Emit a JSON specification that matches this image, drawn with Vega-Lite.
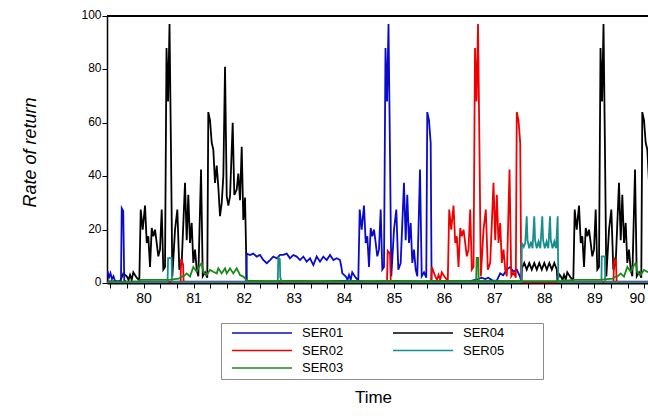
{
"$schema": "https://vega.github.io/schema/vega-lite/v6.json",
"width": 541, "height": 267,
"autosize": {"type": "none"},
"padding": {"left": 107, "top": 16, "right": 0, "bottom": 133},
"config": {"view": {"stroke": null}, "font": "Liberation Sans",
  "axis": {"grid": false, "domainColor": "black", "tickColor": "black", "labelColor": "black", "titleColor": "black", "labelFont": "Liberation Sans", "titleFont": "Liberation Sans"},
  "legend": {"labelFont": "Liberation Sans", "labelColor": "black"}},
"layer": [
{"data": {"values": [
{"s":"SER04","t":79.281,"v":0.6},{"s":"SER04","t":79.531,"v":0.6},{"s":"SER04","t":79.597,"v":3.6},{"s":"SER04","t":79.665,"v":2.5},{"s":"SER04","t":79.701,"v":1.2},{"s":"SER04","t":79.731,"v":3},{"s":"SER04","t":79.764,"v":1.2},{"s":"SER04","t":79.796,"v":4},{"s":"SER04","t":79.864,"v":2},
{"s":"SER04","t":79.916,"v":1},{"s":"SER04","t":79.944,"v":27.5},{"s":"SER04","t":79.984,"v":20},{"s":"SER04","t":80.030,"v":29},{"s":"SER04","t":80.064,"v":15},{"s":"SER04","t":80.096,"v":17.5},{"s":"SER04","t":80.130,"v":6},{"s":"SER04","t":80.164,"v":20.6},{"s":"SER04","t":80.196,"v":17.5},{"s":"SER04","t":80.230,"v":20},{"s":"SER04","t":80.263,"v":15},{"s":"SER04","t":80.295,"v":10},{"s":"SER04","t":80.329,"v":12.5},{"s":"SER04","t":80.363,"v":27.5},{"s":"SER04","t":80.395,"v":5},{"s":"SER04","t":80.429,"v":6},{"s":"SER04","t":80.459,"v":88},{"s":"SER04","t":80.490,"v":68},{"s":"SER04","t":80.519,"v":97},{"s":"SER04","t":80.545,"v":55},{"s":"SER04","t":80.575,"v":2.5},{"s":"SER04","t":80.629,"v":20},{"s":"SER04","t":80.675,"v":27.5},{"s":"SER04","t":80.715,"v":5},{"s":"SER04","t":80.762,"v":7.5},{"s":"SER04","t":80.828,"v":37.5},{"s":"SER04","t":80.862,"v":16},{"s":"SER04","t":80.894,"v":33},{"s":"SER04","t":80.928,"v":15},{"s":"SER04","t":80.962,"v":22.5},{"s":"SER04","t":80.994,"v":7.5},{"s":"SER04","t":81.028,"v":12.5},{"s":"SER04","t":81.062,"v":5},{"s":"SER04","t":81.094,"v":2.5},{"s":"SER04","t":81.148,"v":42.5},{"s":"SER04","t":81.182,"v":2.5},{"s":"SER04","t":81.228,"v":4},{"s":"SER04","t":81.273,"v":2},{"s":"SER04","t":81.293,"v":64},{"s":"SER04","t":81.327,"v":61},{"s":"SER04","t":81.361,"v":52.5},{"s":"SER04","t":81.393,"v":50},{"s":"SER04","t":81.427,"v":37.5},{"s":"SER04","t":81.461,"v":44},{"s":"SER04","t":81.493,"v":36},{"s":"SER04","t":81.527,"v":25},{"s":"SER04","t":81.561,"v":30},{"s":"SER04","t":81.593,"v":40},{"s":"SER04","t":81.627,"v":81},{"s":"SER04","t":81.661,"v":32.5},{"s":"SER04","t":81.693,"v":29},{"s":"SER04","t":81.727,"v":32.5},{"s":"SER04","t":81.780,"v":60},{"s":"SER04","t":81.812,"v":33},{"s":"SER04","t":81.860,"v":35},{"s":"SER04","t":81.892,"v":41},{"s":"SER04","t":81.926,"v":31},{"s":"SER04","t":81.960,"v":51},{"s":"SER04","t":81.992,"v":23.6},{"s":"SER04","t":82.026,"v":32},{"s":"SER04","t":82.060,"v":0.8},
{"s":"SER04","t":82.5,"v":0.6},{"s":"SER04","t":83.0,"v":0.7},{"s":"SER04","t":83.5,"v":0.6},{"s":"SER04","t":84.0,"v":0.8},{"s":"SER04","t":84.5,"v":0.6},{"s":"SER04","t":85.0,"v":0.7},{"s":"SER04","t":85.5,"v":0.6},{"s":"SER04","t":86.0,"v":0.7},{"s":"SER04","t":86.5,"v":0.6},{"s":"SER04","t":87.0,"v":0.7},{"s":"SER04","t":87.545,"v":0.6},
{"s":"SER04","t":87.552,"v":5.5},{"s":"SER04","t":87.60,"v":7.5},{"s":"SER04","t":87.65,"v":5},{"s":"SER04","t":87.70,"v":7.5},{"s":"SER04","t":87.75,"v":5},{"s":"SER04","t":87.80,"v":7.5},{"s":"SER04","t":87.85,"v":5},{"s":"SER04","t":87.90,"v":7.5},{"s":"SER04","t":87.95,"v":5},{"s":"SER04","t":88.00,"v":7.5},{"s":"SER04","t":88.05,"v":5},{"s":"SER04","t":88.10,"v":7.5},{"s":"SER04","t":88.15,"v":5},{"s":"SER04","t":88.20,"v":7.5},{"s":"SER04","t":88.25,"v":5},{"s":"SER04","t":88.262,"v":0.8},
{"s":"SER04","t":88.30,"v":3.2},{"s":"SER04","t":88.328,"v":2.5},{"s":"SER04","t":88.364,"v":1.2},{"s":"SER04","t":88.394,"v":3},{"s":"SER04","t":88.427,"v":1.2},{"s":"SER04","t":88.459,"v":4},{"s":"SER04","t":88.527,"v":2},
{"s":"SER04","t":88.579,"v":1},{"s":"SER04","t":88.607,"v":27.5},{"s":"SER04","t":88.647,"v":20},{"s":"SER04","t":88.693,"v":29},{"s":"SER04","t":88.727,"v":15},{"s":"SER04","t":88.759,"v":17.5},{"s":"SER04","t":88.793,"v":6},{"s":"SER04","t":88.827,"v":20.6},{"s":"SER04","t":88.859,"v":17.5},{"s":"SER04","t":88.893,"v":20},{"s":"SER04","t":88.926,"v":15},{"s":"SER04","t":88.958,"v":10},{"s":"SER04","t":88.992,"v":12.5},{"s":"SER04","t":89.026,"v":27.5},{"s":"SER04","t":89.058,"v":5},{"s":"SER04","t":89.092,"v":6},{"s":"SER04","t":89.122,"v":88},{"s":"SER04","t":89.153,"v":68},{"s":"SER04","t":89.182,"v":97},{"s":"SER04","t":89.208,"v":55},{"s":"SER04","t":89.238,"v":2.5},{"s":"SER04","t":89.292,"v":20},{"s":"SER04","t":89.338,"v":27.5},{"s":"SER04","t":89.378,"v":5},{"s":"SER04","t":89.425,"v":7.5},{"s":"SER04","t":89.491,"v":37.5},{"s":"SER04","t":89.525,"v":16},{"s":"SER04","t":89.557,"v":33},{"s":"SER04","t":89.591,"v":15},{"s":"SER04","t":89.625,"v":22.5},{"s":"SER04","t":89.657,"v":7.5},{"s":"SER04","t":89.691,"v":12.5},{"s":"SER04","t":89.725,"v":5},{"s":"SER04","t":89.757,"v":2.5},{"s":"SER04","t":89.811,"v":42.5},{"s":"SER04","t":89.845,"v":2.5},{"s":"SER04","t":89.891,"v":4},{"s":"SER04","t":89.936,"v":2},{"s":"SER04","t":89.956,"v":64},{"s":"SER04","t":89.990,"v":61},{"s":"SER04","t":90.024,"v":52.5},{"s":"SER04","t":90.056,"v":50},{"s":"SER04","t":90.090,"v":37.5},{"s":"SER04","t":90.124,"v":44},

{"s":"SER01","t":79.281,"v":4.5},{"s":"SER01","t":79.31,"v":2},{"s":"SER01","t":79.34,"v":3.7},{"s":"SER01","t":79.37,"v":1.5},{"s":"SER01","t":79.40,"v":2.5},{"s":"SER01","t":79.43,"v":0.8},{"s":"SER01","t":79.49,"v":0.5},{"s":"SER01","t":79.55,"v":0.8},{"s":"SER01","t":79.565,"v":28},{"s":"SER01","t":79.595,"v":27},{"s":"SER01","t":79.615,"v":1},{"s":"SER01","t":79.65,"v":0.5},{"s":"SER01","t":80.5,"v":0.5},{"s":"SER01","t":81.5,"v":0.5},{"s":"SER01","t":82.05,"v":0.5},
{"s":"SER01","t":82.06,"v":11},{"s":"SER01","t":82.126,"v":10.5},{"s":"SER01","t":82.19,"v":11},{"s":"SER01","t":82.26,"v":9.9},{"s":"SER01","t":82.325,"v":10.5},{"s":"SER01","t":82.39,"v":8.6},{"s":"SER01","t":82.46,"v":7.4},{"s":"SER01","t":82.525,"v":8.6},{"s":"SER01","t":82.59,"v":9.9},{"s":"SER01","t":82.66,"v":9.25},{"s":"SER01","t":82.725,"v":10.5},{"s":"SER01","t":82.79,"v":10.5},{"s":"SER01","t":82.86,"v":11},{"s":"SER01","t":82.924,"v":9.25},{"s":"SER01","t":82.99,"v":10.5},{"s":"SER01","t":83.058,"v":9.9},{"s":"SER01","t":83.124,"v":8.6},{"s":"SER01","t":83.19,"v":9.9},{"s":"SER01","t":83.257,"v":8},{"s":"SER01","t":83.323,"v":9.25},{"s":"SER01","t":83.39,"v":6.7},{"s":"SER01","t":83.457,"v":9.9},{"s":"SER01","t":83.523,"v":8},{"s":"SER01","t":83.589,"v":9.9},{"s":"SER01","t":83.657,"v":8.6},{"s":"SER01","t":83.723,"v":10.5},{"s":"SER01","t":83.79,"v":8.6},{"s":"SER01","t":83.856,"v":9.25},{"s":"SER01","t":83.922,"v":8.6},{"s":"SER01","t":83.95,"v":6},
{"s":"SER01","t":83.968,"v":3.6},{"s":"SER01","t":84.036,"v":2.5},{"s":"SER01","t":84.072,"v":1.2},{"s":"SER01","t":84.102,"v":3},{"s":"SER01","t":84.135,"v":1.2},{"s":"SER01","t":84.167,"v":4},{"s":"SER01","t":84.235,"v":2},
{"s":"SER01","t":84.287,"v":1},{"s":"SER01","t":84.315,"v":27.5},{"s":"SER01","t":84.355,"v":20},{"s":"SER01","t":84.401,"v":29},{"s":"SER01","t":84.435,"v":15},{"s":"SER01","t":84.467,"v":17.5},{"s":"SER01","t":84.501,"v":6},{"s":"SER01","t":84.535,"v":20.6},{"s":"SER01","t":84.567,"v":17.5},{"s":"SER01","t":84.601,"v":20},{"s":"SER01","t":84.634,"v":15},{"s":"SER01","t":84.666,"v":10},{"s":"SER01","t":84.700,"v":12.5},{"s":"SER01","t":84.734,"v":27.5},{"s":"SER01","t":84.766,"v":5},{"s":"SER01","t":84.800,"v":6},{"s":"SER01","t":84.830,"v":88},{"s":"SER01","t":84.861,"v":68},{"s":"SER01","t":84.890,"v":97},{"s":"SER01","t":84.916,"v":55},{"s":"SER01","t":84.946,"v":2.5},{"s":"SER01","t":85.000,"v":20},{"s":"SER01","t":85.046,"v":27.5},{"s":"SER01","t":85.086,"v":5},{"s":"SER01","t":85.133,"v":7.5},{"s":"SER01","t":85.199,"v":37.5},{"s":"SER01","t":85.233,"v":16},{"s":"SER01","t":85.265,"v":33},{"s":"SER01","t":85.299,"v":15},{"s":"SER01","t":85.333,"v":22.5},{"s":"SER01","t":85.365,"v":7.5},{"s":"SER01","t":85.399,"v":12.5},{"s":"SER01","t":85.433,"v":5},{"s":"SER01","t":85.465,"v":2.5},{"s":"SER01","t":85.519,"v":42.5},{"s":"SER01","t":85.553,"v":2.5},{"s":"SER01","t":85.599,"v":4},{"s":"SER01","t":85.644,"v":2},{"s":"SER01","t":85.664,"v":64},{"s":"SER01","t":85.698,"v":61},{"s":"SER01","t":85.732,"v":52.5},{"s":"SER01","t":85.75,"v":0.6},
{"s":"SER01","t":86.5,"v":0.6},{"s":"SER01","t":86.68,"v":1.5},{"s":"SER01","t":86.75,"v":2},{"s":"SER01","t":86.82,"v":1.5},{"s":"SER01","t":86.88,"v":2},{"s":"SER01","t":86.96,"v":1},{"s":"SER01","t":87.05,"v":0.8},{"s":"SER01","t":87.12,"v":3.6},{"s":"SER01","t":87.18,"v":2.9},{"s":"SER01","t":87.25,"v":5},{"s":"SER01","t":87.32,"v":6},{"s":"SER01","t":87.38,"v":4.2},{"s":"SER01","t":87.45,"v":5},{"s":"SER01","t":87.515,"v":2.4},{"s":"SER01","t":87.54,"v":0.5},{"s":"SER01","t":88.5,"v":0.5},{"s":"SER01","t":89.5,"v":0.5},{"s":"SER01","t":90.1,"v":0.5},

{"s":"SER02","t":79.281,"v":0.3},{"s":"SER02","t":80.74,"v":0.3},{"s":"SER02","t":80.75,"v":9},{"s":"SER02","t":80.79,"v":7},{"s":"SER02","t":80.80,"v":0.4},{"s":"SER02","t":84.86,"v":0.4},{"s":"SER02","t":84.875,"v":12},{"s":"SER02","t":84.92,"v":11},{"s":"SER02","t":84.935,"v":0.4},{"s":"SER02","t":85.74,"v":0.4},
{"s":"SER02","t":85.755,"v":6},{"s":"SER02","t":85.823,"v":2.5},{"s":"SER02","t":85.859,"v":1.2},{"s":"SER02","t":85.889,"v":3},{"s":"SER02","t":85.922,"v":1.2},{"s":"SER02","t":85.954,"v":4},{"s":"SER02","t":86.022,"v":2},
{"s":"SER02","t":86.074,"v":1},{"s":"SER02","t":86.102,"v":27.5},{"s":"SER02","t":86.142,"v":20},{"s":"SER02","t":86.188,"v":29},{"s":"SER02","t":86.222,"v":15},{"s":"SER02","t":86.254,"v":17.5},{"s":"SER02","t":86.288,"v":6},{"s":"SER02","t":86.322,"v":20.6},{"s":"SER02","t":86.354,"v":17.5},{"s":"SER02","t":86.388,"v":20},{"s":"SER02","t":86.421,"v":15},{"s":"SER02","t":86.453,"v":10},{"s":"SER02","t":86.487,"v":12.5},{"s":"SER02","t":86.521,"v":27.5},{"s":"SER02","t":86.553,"v":5},{"s":"SER02","t":86.587,"v":6},{"s":"SER02","t":86.617,"v":88},{"s":"SER02","t":86.648,"v":68},{"s":"SER02","t":86.677,"v":97},{"s":"SER02","t":86.703,"v":55},{"s":"SER02","t":86.733,"v":2.5},{"s":"SER02","t":86.787,"v":20},{"s":"SER02","t":86.833,"v":27.5},{"s":"SER02","t":86.873,"v":5},{"s":"SER02","t":86.920,"v":7.5},{"s":"SER02","t":86.986,"v":37.5},{"s":"SER02","t":87.020,"v":16},{"s":"SER02","t":87.052,"v":33},{"s":"SER02","t":87.086,"v":15},{"s":"SER02","t":87.120,"v":22.5},{"s":"SER02","t":87.152,"v":7.5},{"s":"SER02","t":87.186,"v":12.5},{"s":"SER02","t":87.220,"v":5},{"s":"SER02","t":87.252,"v":2.5},{"s":"SER02","t":87.306,"v":42.5},{"s":"SER02","t":87.340,"v":2.5},{"s":"SER02","t":87.386,"v":4},{"s":"SER02","t":87.431,"v":2},{"s":"SER02","t":87.451,"v":64},{"s":"SER02","t":87.485,"v":61},{"s":"SER02","t":87.519,"v":52.5},{"s":"SER02","t":87.54,"v":0.4},
{"s":"SER02","t":89.38,"v":0.4},{"s":"SER02","t":89.395,"v":9.4},{"s":"SER02","t":89.43,"v":8},{"s":"SER02","t":89.445,"v":0.4},{"s":"SER02","t":90.1,"v":0.4},

{"s":"SER05","t":79.281,"v":0.3},{"s":"SER05","t":80.48,"v":0.3},{"s":"SER05","t":80.49,"v":9.3},{"s":"SER05","t":80.56,"v":9.3},{"s":"SER05","t":80.57,"v":0.3},{"s":"SER05","t":82.68,"v":0.3},{"s":"SER05","t":82.69,"v":9.5},{"s":"SER05","t":82.72,"v":9},{"s":"SER05","t":82.73,"v":2},{"s":"SER05","t":82.76,"v":0.4},{"s":"SER05","t":87.545,"v":0.3},
{"s":"SER05","t":87.552,"v":15},{"s":"SER05","t":87.59,"v":13.5},{"s":"SER05","t":87.62,"v":15},{"s":"SER05","t":87.649,"v":25},{"s":"SER05","t":87.665,"v":16},{"s":"SER05","t":87.70,"v":13},{"s":"SER05","t":87.735,"v":15.5},{"s":"SER05","t":87.765,"v":13},{"s":"SER05","t":87.80,"v":25},{"s":"SER05","t":87.816,"v":16},{"s":"SER05","t":87.85,"v":13},{"s":"SER05","t":87.885,"v":15.5},{"s":"SER05","t":87.92,"v":13},{"s":"SER05","t":87.96,"v":25},{"s":"SER05","t":87.976,"v":16},{"s":"SER05","t":88.01,"v":13},{"s":"SER05","t":88.045,"v":15.5},{"s":"SER05","t":88.08,"v":13},{"s":"SER05","t":88.114,"v":25},{"s":"SER05","t":88.13,"v":16},{"s":"SER05","t":88.165,"v":13},{"s":"SER05","t":88.20,"v":15.5},{"s":"SER05","t":88.235,"v":13},{"s":"SER05","t":88.267,"v":25},{"s":"SER05","t":88.279,"v":0.3},
{"s":"SER05","t":89.14,"v":0.3},{"s":"SER05","t":89.146,"v":10},{"s":"SER05","t":89.21,"v":10},{"s":"SER05","t":89.216,"v":0.3},{"s":"SER05","t":90.1,"v":0.3},

{"s":"SER03","t":79.281,"v":0.5},{"s":"SER03","t":79.90,"v":0.6},{"s":"SER03","t":79.93,"v":1.2},{"s":"SER03","t":80.5,"v":1.2},{"s":"SER03","t":80.70,"v":1.6},{"s":"SER03","t":80.76,"v":2.4},{"s":"SER03","t":80.795,"v":2.4},{"s":"SER03","t":80.862,"v":3.6},{"s":"SER03","t":80.928,"v":2.4},{"s":"SER03","t":80.994,"v":6},{"s":"SER03","t":81.062,"v":4.2},{"s":"SER03","t":81.128,"v":6.7},{"s":"SER03","t":81.162,"v":7.4},{"s":"SER03","t":81.194,"v":4},{"s":"SER03","t":81.261,"v":3},{"s":"SER03","t":81.327,"v":4.9},{"s":"SER03","t":81.393,"v":4.2},{"s":"SER03","t":81.461,"v":3.6},{"s":"SER03","t":81.493,"v":5.5},{"s":"SER03","t":81.561,"v":3.6},{"s":"SER03","t":81.627,"v":5.5},{"s":"SER03","t":81.661,"v":3.6},{"s":"SER03","t":81.727,"v":5.5},{"s":"SER03","t":81.792,"v":3.6},{"s":"SER03","t":81.860,"v":5.5},{"s":"SER03","t":81.926,"v":3},{"s":"SER03","t":81.992,"v":2.4},{"s":"SER03","t":82.06,"v":1},{"s":"SER03","t":82.1,"v":0.7},
{"s":"SER03","t":86.64,"v":0.7},{"s":"SER03","t":86.65,"v":9.4},{"s":"SER03","t":86.68,"v":9.4},{"s":"SER03","t":86.69,"v":0.7},{"s":"SER03","t":88.3,"v":0.7},{"s":"SER03","t":88.593,"v":1.2},{"s":"SER03","t":89.1,"v":1.2},{"s":"SER03","t":89.36,"v":1.6},{"s":"SER03","t":89.42,"v":2.4},{"s":"SER03","t":89.458,"v":2.4},{"s":"SER03","t":89.525,"v":3.6},{"s":"SER03","t":89.591,"v":2.4},{"s":"SER03","t":89.657,"v":6},{"s":"SER03","t":89.725,"v":4.2},{"s":"SER03","t":89.791,"v":6.7},{"s":"SER03","t":89.825,"v":7.4},{"s":"SER03","t":89.857,"v":4},{"s":"SER03","t":89.924,"v":3},{"s":"SER03","t":89.990,"v":4.9},{"s":"SER03","t":90.056,"v":4.2},{"s":"SER03","t":90.124,"v":3.6}
]},
"mark": {"type": "line", "strokeWidth": 1.8, "clip": true},
"encoding": {
  "x": {"field": "t", "type": "quantitative",
    "scale": {"domain": [79.271, 90.07], "nice": false, "zero": false},
    "axis": {"title": "Time", "values": [79.3333,79.6667,80,80.3333,80.6667,81,81.3333,81.6667,82,82.3333,82.6667,83,83.3333,83.6667,84,84.3333,84.6667,85,85.3333,85.6667,86,86.3333,86.6667,87,87.3333,87.6667,88,88.3333,88.6667,89,89.3333,89.6667,90],
      "labelExpr": "abs(datum.value - round(datum.value)) < 0.01 ? '' + round(datum.value) : ''",
      "labelFlush": 5, "labelOverlap": false, "labelFontSize": 14, "labelPadding": 3, "tickSize": 5, "tickWidth": 1, "domainWidth": 2,
      "titleFontSize": 17, "titleFontWeight": "normal", "titleX": 266, "titleY": 114, "titleBaseline": "middle", "titleAlign": "center"}},
  "y": {"field": "v", "type": "quantitative",
    "scale": {"domain": [0, 100], "nice": false},
    "axis": {"title": "Rate of return", "values": [0,20,40,60,80,100], "labelFontSize": 12, "labelPadding": 1, "labelOffset": -1.5, "tickSize": 5, "tickWidth": 1, "domainWidth": 1.5,
      "titleFontSize": 18, "titleFontStyle": "italic", "titleFontWeight": "normal", "titleX": -77, "titleY": 136, "titleAngle": 270, "titleAlign": "center", "titleBaseline": "middle"}},
  "color": {"field": "s", "type": "nominal",
    "scale": {"domain": ["SER01","SER02","SER03","SER04","SER05"], "range": ["#0a0acd","#f00000","#1b8a1b","#000000","#178e8e"]},
    "legend": {"orient": "none", "legendX": 114, "legendY": 307, "title": " ", "titleOrient": "right", "titlePadding": 35,
      "columns": 2, "symbolType": "stroke", "symbolSize": 3600, "symbolStrokeWidth": 1.5, "clipHeight": 12, "rowPadding": 4.5, "columnPadding": 42,
      "labelFontSize": 13, "labelOffset": 9, "padding": 4, "strokeColor": "#8c8c8c", "fillColor": "white", "symbolOffset": 6}}
}},
{"data": {"values": [{}]}, "mark": {"type": "rule", "strokeWidth": 2, "color": "black"}, "encoding": {"y": {"datum": 100}}}
]
}
